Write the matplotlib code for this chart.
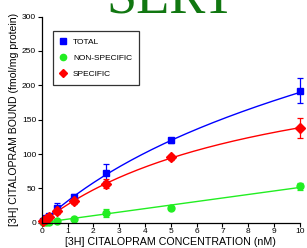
import numpy as np
import matplotlib
matplotlib.use("Agg")
import matplotlib.pyplot as plt

plt.rcParams['font.family'] = ['Liberation Sans', 'DejaVu Sans']

conc = [0.05, 0.15, 0.3, 0.6, 1.25, 2.5, 5, 10]
total = [3, 7, 10, 22, 38, 73, 120, 192]
total_err = [2, 3, 3, 6, 4, 13, 4, 18]
nonspec = [0.5, 1, 1.5, 2.5, 6, 14, 22, 53]
nonspec_err = [0.5, 0.5, 0.5, 1, 1.5, 6, 2, 5]
specific = [2, 5, 8, 17, 31, 57, 95, 138]
specific_err = [1, 2, 2, 4, 4, 7, 3, 14]

x = np.array(conc, float)
# linear fit through origin for non-specific binding
ns_slope = np.sum(x * np.array(nonspec)) / np.sum(x * x)
# one-site hyperbola fit for specific binding (grid search on Kd)
best = None
for kd in np.linspace(0.5, 30, 3000):
    f = x / (kd + x)
    bmax = np.sum(f * np.array(specific)) / np.sum(f * f)
    r = np.sum((np.array(specific) - bmax * f) ** 2)
    if best is None or r < best[0]:
        best = (r, kd, bmax)
_, kd, bmax = best

xx = np.linspace(0, 10, 200)
spec_fit = bmax * xx / (kd + xx)
ns_fit = ns_slope * xx
tot_fit = spec_fit + ns_fit

fig = plt.figure(figsize=(3.07, 2.48), dpi=100)
ax = fig.add_axes([0.136, 0.102, 0.841, 0.831])

blue = '#0000ff'
green = '#22ee22'
red = '#ff0000'

ax.plot(xx, tot_fit, color=blue, lw=1.0)
ax.plot(xx, ns_fit, color=green, lw=1.0)
ax.plot(xx, spec_fit, color=red, lw=1.0)

ax.errorbar(conc, total, yerr=total_err, fmt='s', color=blue, ms=5, capsize=2,
            elinewidth=0.9, capthick=0.9, label='TOTAL', clip_on=False)
ax.errorbar(conc, nonspec, yerr=nonspec_err, fmt='o', color=green, ms=5, capsize=2,
            elinewidth=0.9, capthick=0.9, label='NON-SPECIFIC', clip_on=False)
ax.errorbar(conc, specific, yerr=specific_err, fmt='D', color=red, ms=5, capsize=2,
            elinewidth=0.9, capthick=0.9, label='SPECIFIC', clip_on=False)

ax.set_xlim(0, 10)
ax.set_ylim(0, 300)
ax.set_xticks(range(0, 11))
ax.set_yticks(range(0, 301, 50))
for s in ['top', 'right']:
    ax.spines[s].set_visible(False)
for s in ['left', 'bottom']:
    ax.spines[s].set_linewidth(0.9)
ax.tick_params(labelsize=6, length=3, width=0.8, pad=1)

ax.set_xlabel('[3H] CITALOPRAM CONCENTRATION (nM)', fontsize=7.7, labelpad=1)
ax.set_ylabel('[3H] CITALOPRAM BOUND (fmol/mg protein)', fontsize=7.6, labelpad=2)

handles, labels = ax.get_legend_handles_labels()
handles = [h[0] for h in handles]
leg = ax.legend(handles, labels, loc='upper left', bbox_to_anchor=(0.044, 0.93),
                borderaxespad=0,
                fontsize=6, frameon=True, fancybox=False, edgecolor='black',
                handlelength=0.8, handletextpad=0.8, borderpad=0.8, labelspacing=1.0,
                markerscale=0.9)
leg.get_frame().set_linewidth(0.9)

fig.text(0.557, 0.948, 'SERT', fontsize=39, color='#117711', ha='center',
         va='baseline', family=['Liberation Serif', 'DejaVu Serif'])

fig.savefig('out.png', dpi=100)
